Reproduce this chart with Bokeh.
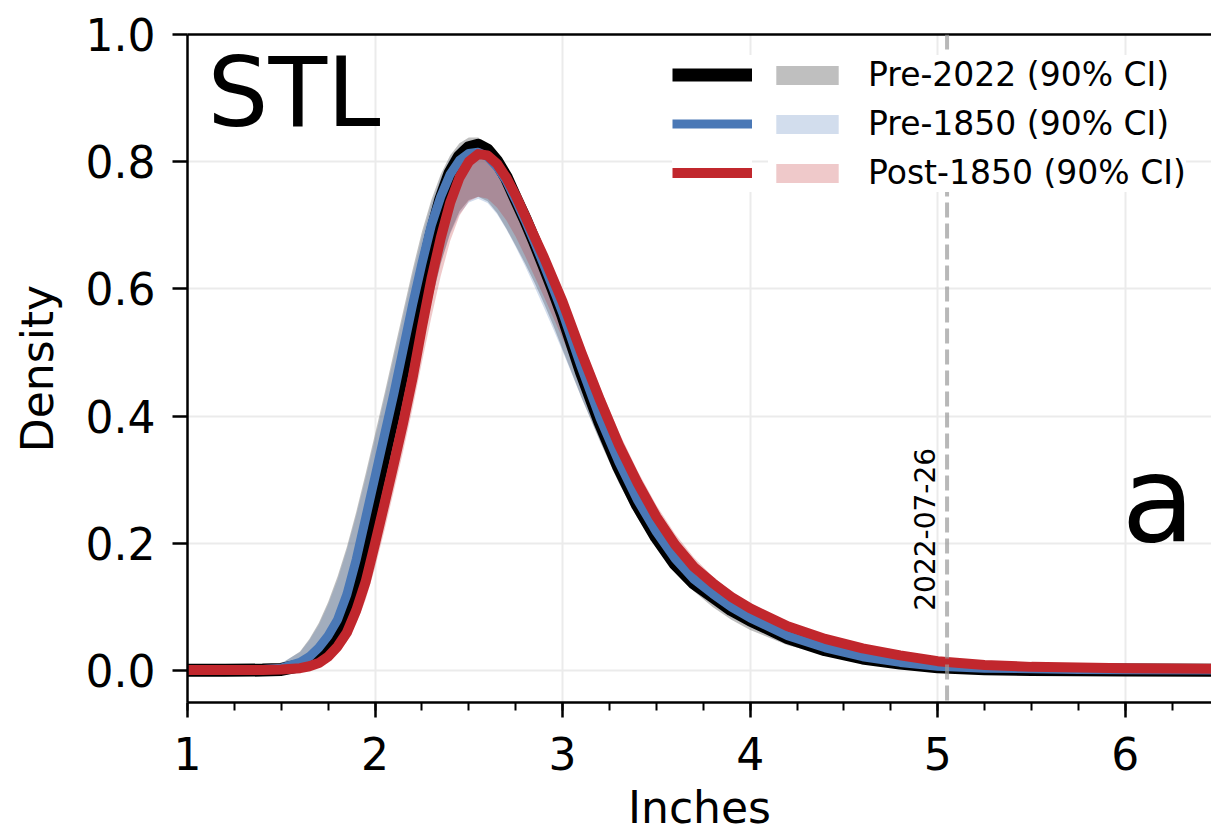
import math
from bokeh.plotting import figure
from bokeh.models import (Range1d, LinearAxis, SingleIntervalTicker, FixedTicker,
                          PrintfTickFormatter, Legend, LegendItem, Label, Span)
from bokeh.embed import file_html
from bokeh.resources import INLINE

# ---------------- data ----------------
inches = [1.0, 1.2, 1.4, 1.5, 1.6, 1.65, 1.7, 1.75, 1.8, 1.85, 1.9, 1.95, 2.0, 2.05, 2.1,
          2.15, 2.2, 2.25, 2.3, 2.35, 2.4, 2.45, 2.5, 2.55, 2.6, 2.65, 2.7, 2.75, 2.8, 2.85,
          2.9, 2.95, 3.0, 3.1, 3.2, 3.3, 3.4, 3.5, 3.6, 3.7, 3.8, 3.9, 4.0, 4.2, 4.4, 4.6,
          4.8, 5.0, 5.25, 5.5, 5.75, 6.0, 6.5]

pre2022 = [0.0005, 0.0005, 0.001, 0.002, 0.008, 0.014, 0.024, 0.038, 0.06, 0.095, 0.15, 0.21,
           0.275, 0.34, 0.405, 0.475, 0.55, 0.62, 0.685, 0.74, 0.782, 0.808, 0.822, 0.826,
           0.818, 0.80, 0.775, 0.742, 0.71, 0.675, 0.638, 0.60, 0.56, 0.47, 0.39, 0.32, 0.26,
           0.21, 0.168, 0.138, 0.117, 0.096, 0.08, 0.052, 0.033, 0.02, 0.012, 0.006, 0.003,
           0.002, 0.0015, 0.001, 0.0005]
pre2022_lo = [0.0, 0.0, 0.0, 0.001, 0.004, 0.007, 0.012, 0.02, 0.034, 0.054, 0.085, 0.128,
              0.18, 0.24, 0.303, 0.368, 0.437, 0.51, 0.58, 0.64, 0.688, 0.722, 0.74, 0.745,
              0.738, 0.72, 0.695, 0.668, 0.64, 0.61, 0.578, 0.543, 0.505, 0.43, 0.36, 0.295,
              0.24, 0.195, 0.155, 0.125, 0.10, 0.08, 0.064, 0.04, 0.025, 0.015, 0.008, 0.004,
              0.002, 0.001, 0.001, 0.0005, 0.0]
pre2022_hi = [0.001, 0.001, 0.004, 0.011, 0.03, 0.05, 0.075, 0.108, 0.148, 0.195, 0.25, 0.31,
              0.372, 0.435, 0.5, 0.565, 0.63, 0.69, 0.74, 0.78, 0.81, 0.829, 0.838,
              0.838, 0.826, 0.806, 0.78, 0.748, 0.715, 0.68, 0.643, 0.605, 0.565, 0.475, 0.395,
              0.325, 0.265, 0.215, 0.173, 0.142, 0.12, 0.099, 0.083, 0.055, 0.035, 0.022,
              0.013, 0.007, 0.004, 0.003, 0.002, 0.0015, 0.001]

pre1850 = [0.001, 0.001, 0.002, 0.004, 0.013, 0.022, 0.036, 0.055, 0.08, 0.12, 0.175, 0.24,
           0.305, 0.37, 0.435, 0.505, 0.575, 0.64, 0.70, 0.745, 0.78, 0.802, 0.813, 0.815,
           0.808, 0.792, 0.77, 0.74, 0.708, 0.674, 0.638, 0.601, 0.563, 0.477, 0.397, 0.328,
           0.268, 0.218, 0.176, 0.144, 0.121, 0.10, 0.083, 0.055, 0.036, 0.022, 0.013, 0.007,
           0.004, 0.003, 0.002, 0.0015, 0.001]
pre1850_lo = [0.0, 0.0, 0.001, 0.002, 0.005, 0.008, 0.013, 0.022, 0.036, 0.057, 0.088, 0.132,
              0.185, 0.245, 0.308, 0.373, 0.442, 0.513, 0.582, 0.64, 0.686, 0.718, 0.736,
              0.742, 0.735, 0.718, 0.694, 0.666, 0.636, 0.604, 0.571, 0.537, 0.502, 0.43,
              0.362, 0.30, 0.246, 0.20, 0.162, 0.131, 0.106, 0.086, 0.069, 0.044, 0.028,
              0.017, 0.01, 0.005, 0.003, 0.002, 0.001, 0.001, 0.0005]
pre1850_hi = [0.002, 0.002, 0.005, 0.012, 0.029, 0.048, 0.072, 0.104, 0.143, 0.19, 0.244, 0.303,
              0.365, 0.428, 0.492, 0.557, 0.622, 0.682, 0.733, 0.774, 0.805, 0.823, 0.831,
              0.83, 0.82, 0.802, 0.778, 0.748, 0.716, 0.682, 0.645, 0.608, 0.57, 0.485, 0.405,
              0.336, 0.276, 0.226, 0.183, 0.15, 0.125, 0.104, 0.087, 0.058, 0.038, 0.024,
              0.015, 0.009, 0.005, 0.004, 0.003, 0.002, 0.0015]

post1850 = [0.001, 0.001, 0.001, 0.002, 0.004, 0.007, 0.012, 0.022, 0.038, 0.06, 0.095, 0.14,
            0.20, 0.262, 0.325, 0.39, 0.46, 0.54, 0.615, 0.68, 0.735, 0.775, 0.80, 0.812,
            0.81, 0.797, 0.775, 0.747, 0.715, 0.682, 0.65, 0.615, 0.58, 0.50, 0.425, 0.355,
            0.295, 0.242, 0.198, 0.163, 0.138, 0.116, 0.098, 0.07, 0.05, 0.035, 0.024, 0.015,
            0.009, 0.006, 0.005, 0.004, 0.003]
post1850_lo = [0.0, 0.0, 0.0, 0.001, 0.003, 0.005, 0.009, 0.016, 0.028, 0.046, 0.074, 0.112,
               0.162, 0.22, 0.282, 0.345, 0.412, 0.485, 0.555, 0.62, 0.675, 0.715, 0.738,
               0.745, 0.742, 0.728, 0.708, 0.682, 0.652, 0.62, 0.588, 0.555, 0.522, 0.452,
               0.385, 0.322, 0.266, 0.218, 0.177, 0.145, 0.119, 0.097, 0.08, 0.054, 0.036,
               0.024, 0.015, 0.009, 0.005, 0.003, 0.002, 0.002, 0.001]
post1850_hi = [0.001, 0.001, 0.002, 0.004, 0.008, 0.012, 0.019, 0.031, 0.05, 0.077, 0.116,
               0.167, 0.23, 0.295, 0.36, 0.428, 0.5, 0.578, 0.65, 0.71, 0.76, 0.795, 0.815,
               0.824, 0.82, 0.806, 0.786, 0.76, 0.73, 0.698, 0.665, 0.632, 0.598, 0.52, 0.445,
               0.375, 0.314, 0.26, 0.215, 0.178, 0.148, 0.124, 0.105, 0.075, 0.054, 0.039,
               0.027, 0.018, 0.012, 0.008, 0.006, 0.005, 0.004]

series_labels = ["Pre-2022 (90% CI)", "Pre-1850 (90% CI)", "Post-1850 (90% CI)"]
event_date = "2022-07-26"
event_inches = 5.05
station = "STL"
panel_letter = "a"
x_label = "Inches"
y_label = "Density"

# ---------------- styling ----------------
FONT = "DejaVu Sans"
BLACK = "#000000"
BLUE = "#4a78b6"
RED = "#c1272d"

p = figure(width=1211, height=837,
           x_range=Range1d(1.0, 6.46), y_range=Range1d(-0.05, 1.0),
           output_backend="svg", toolbar_location=None,
           min_border_left=187, min_border_right=0, min_border_top=34, min_border_bottom=135,
           x_axis_label=x_label, y_axis_label=y_label)
p.outline_line_color = None
p.background_fill_color = "white"
p.border_fill_color = "white"

xa = p.xaxis[0]
ya = p.yaxis[0]
xa.ticker = SingleIntervalTicker(interval=1, num_minor_ticks=4)
ya.ticker = SingleIntervalTicker(interval=0.2, num_minor_ticks=0)
ya.formatter = PrintfTickFormatter(format="%.1f")

for ax in (xa, ya):
    ax.axis_line_color = BLACK
    ax.axis_line_width = 2.5
    ax.major_tick_line_color = BLACK
    ax.major_tick_line_width = 2.5
    ax.major_tick_out = 15
    ax.major_tick_in = 0
    ax.minor_tick_line_color = BLACK
    ax.minor_tick_line_width = 2
    ax.minor_tick_out = 8
    ax.minor_tick_in = 0
    ax.major_label_text_font = FONT
    ax.major_label_text_font_size = "44px"
    ax.major_label_text_color = BLACK
    ax.axis_label_text_font = FONT
    ax.axis_label_text_font_size = "44px"
    ax.axis_label_text_font_style = "normal"
    ax.axis_label_text_color = BLACK

xa.major_label_standoff = 19
xa.axis_label_standoff = 9
ya.major_label_standoff = 17
ya.axis_label_standoff = 20

top = LinearAxis(ticker=FixedTicker(ticks=[]), axis_line_color=BLACK, axis_line_width=2.5,
                 major_tick_out=0, major_tick_in=0, minor_tick_out=0, minor_tick_in=0,
                 major_label_standoff=0)
p.add_layout(top, "above")

p.xgrid.ticker = xa.ticker
p.ygrid.ticker = ya.ticker
for g in (p.xgrid[0], p.ygrid[0]):
    g.grid_line_color = "#ebebeb"
    g.grid_line_width = 2

# CI bands
band_k = p.varea(x=inches, y1=pre2022_lo, y2=pre2022_hi, fill_color="#808080", fill_alpha=0.5)
band_b = p.varea(x=inches, y1=pre1850_lo, y2=pre1850_hi, fill_color=BLUE, fill_alpha=0.25)
band_r = p.varea(x=inches, y1=post1850_lo, y2=post1850_hi, fill_color=RED, fill_alpha=0.25)

# median curves
line_k = p.line(x=inches, y=pre2022, line_color=BLACK, line_width=13, line_join="round")
line_b = p.line(x=inches, y=pre1850, line_color=BLUE, line_width=9, line_join="round")
line_r = p.line(x=inches, y=post1850, line_color=RED, line_width=10, line_join="round")

# event marker
p.add_layout(Span(location=event_inches, dimension="height", line_color="#9a9a9a",
                  line_alpha=0.7, line_width=4, line_dash="15 6"))
p.add_layout(Label(x=event_inches, y=0.0, x_offset=-23, y_offset=60, text=event_date,
                   angle=math.pi / 2, text_font=FONT, text_font_size="28px",
                   text_color=BLACK, text_align="left", text_baseline="alphabetic"))

p.add_layout(Label(x=1.0, y=0.908, x_offset=20, text=station, text_font=FONT,
                   text_font_size="96px", text_color=BLACK, text_baseline="alphabetic"))
p.add_layout(Label(x=5.98, y=0.269, text=panel_letter, text_font=FONT,
                   text_font_size="120px", text_color=BLACK, text_baseline="alphabetic"))

common = dict(label_text_font=FONT, label_text_font_size="33px", label_text_color=BLACK,
              spacing=10, padding=12, margin=0, border_line_color=None,
              background_fill_color="white", background_fill_alpha=1.0)

leg_lines = Legend(items=[LegendItem(label=" ", renderers=[line_k]),
                          LegendItem(label=" ", renderers=[line_b]),
                          LegendItem(label=" ", renderers=[line_r])],
                   location=(485, 510), glyph_width=80, glyph_height=39,
                   label_standoff=0, label_width=0, **common)
leg_bands = Legend(items=[LegendItem(label=series_labels[0], renderers=[band_k]),
                          LegendItem(label=series_labels[1], renderers=[band_b]),
                          LegendItem(label=series_labels[2], renderers=[band_r])],
                   location=(581, 510), glyph_width=78, glyph_height=24,
                   label_standoff=22, **common)
p.add_layout(leg_lines)
p.add_layout(leg_bands)

open("out.html", "w").write(file_html(p, INLINE))
